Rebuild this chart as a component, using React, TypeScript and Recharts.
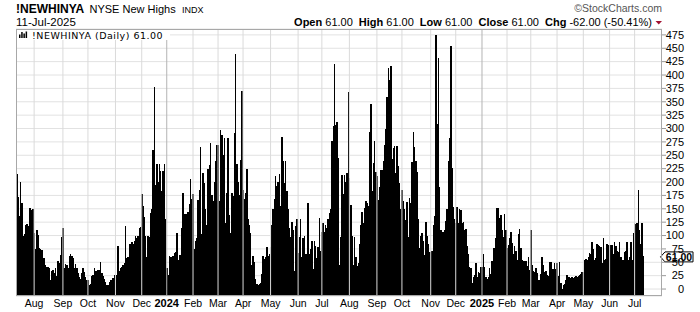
import React from "react";
import { BarChart, Bar, XAxis, YAxis, CartesianGrid, ReferenceLine } from "recharts";

// NYSE new highs, daily, one array per month of trading days
const jul23 = [215, 172, 136, 200, 161, 100, 103, 120, 121, 118, 151, 151, 148, 150];
const aug23 = [105, 75, 111, 101, 77, 74, 73, 58, 58, 45, 42, 42, 40, 17, 33, 36, 30, 39, 24, 52, 48, 64, 97];
const sep23 = [114, 39, 47, 45, 40, 61, 65, 61, 58, 40, 47, 40, 30, 22, 18, 30, 40, 32, 22, 16];
const oct23 = [16, 8, 10, 24, 26, 40, 34, 34, 35, 36, 50, 30, 24, 19, 14, 7, 7, 14, 17, 17, 20, 27];
const nov23 = [27, 27, 81, 33, 40, 42, 45, 49, 117, 58, 60, 84, 84, 88, 84, 90, 100, 95, 100, 115, 116];
const dec23 = [178, 156, 134, 100, 59, 99, 98, 143, 150, 259, 377, 195, 234, 200, 234, 221, 183, 221, 234, 131];
const jan24 = [39, 26, 61, 59, 59, 62, 67, 70, 105, 55, 64, 64, 115, 179, 140, 140, 140, 144, 159, 206, 169];
const feb24 = [178, 74, 90, 95, 167, 186, 265, 103, 217, 198, 150, 120, 225, 232, 273, 176, 164, 200, 239, 270];
const mar24 = [269, 165, 297, 288, 250, 282, 124, 179, 282, 139, 104, 179, 173, 291, 440, 234, 200, 176, 242, 371];
const apr24 = [186, 169, 180, 224, 131, 120, 105, 45, 61, 50, 19, 9, 8, 10, 11, 28, 61, 57, 60, 78, 61, 65];
const may24 = [78, 120, 150, 169, 211, 192, 200, 215, 156, 285, 240, 198, 239, 183, 150, 115, 98, 125, 110, 34, 117, 130];
const jun24 = [67, 98, 130, 60, 95, 99, 65, 65, 161, 65, 74, 89, 38, 89, 80, 58, 78, 133, 72];
const jul24 = [106, 123, 106, 120, 115, 130, 142, 150, 277, 304, 421, 306, 313, 245, 45, 98, 214, 178, 214, 200, 216, 368];
const aug24 = [207, 158, 100, 45, 98, 60, 44, 49, 84, 120, 144, 123, 152, 164, 160, 155, 293, 346, 184, 236, 277, 219];
const sep24 = [211, 167, 190, 222, 222, 240, 270, 300, 359, 414, 391, 416, 243, 264, 268, 216, 268, 230, 198, 150];
const oct24 = [185, 164, 150, 129, 163, 98, 170, 161, 238, 294, 266, 240, 219, 130, 76, 99, 104, 90, 64, 125, 100, 85, 70];
const nov24 = [70, 72, 120, 136, 474, 308, 432, 190, 111, 107, 107, 110, 128, 150, 240, 282, 455, 226, 153, 131];
const dec24 = [123, 154, 124, 149, 148, 123, 126, 110, 112, 80, 65, 42, 39, 11, 23, 26, 48, 23, 31, 30, 42];
const jan25 = [42, 65, 42, 22, 19, 22, 39, 29, 52, 76, 77, 95, 151, 151, 132, 139, 111, 97, 140, 110];
const feb25 = [76, 83, 95, 107, 86, 65, 80, 72, 55, 103, 113, 76, 55, 53, 52, 52, 43, 59, 36];
const mar25 = [110, 45, 34, 32, 40, 30, 16, 16, 29, 59, 45, 32, 34, 26, 24, 51, 51, 37, 38, 49, 37];
const apr25 = [49, 25, 51, 12, 1, 7, 9, 17, 27, 23, 22, 20, 22, 20, 23, 24, 22, 24, 26, 29, 31];
const may25 = [31, 55, 57, 55, 59, 68, 65, 88, 75, 54, 58, 85, 82, 80, 78, 48, 96, 55, 57, 85, 82];
const jun25 = [82, 83, 82, 65, 87, 80, 72, 70, 87, 60, 54, 55, 70, 72, 87, 54, 60, 87, 54, 104];
const jul25 = [124, 121, 123, 185, 110, 85, 123, 61];

const months = [jul23, aug23, sep23, oct23, nov23, dec23, jan24, feb24, mar24, apr24, may24, jun24,
  jul24, aug24, sep24, oct24, nov24, dec24, jan25, feb25, mar25, apr25, may25, jun25, jul25];
const monthLabels = ["", "Aug", "Sep", "Oct", "Nov", "Dec", "2024", "Feb", "Mar", "Apr", "May", "Jun",
  "Jul", "Aug", "Sep", "Oct", "Nov", "Dec", "2025", "Feb", "Mar", "Apr", "May", "Jun", "Jul"];
const yTicks = [0, 25, 50, 75, 100, 125, 150, 175, 200, 225, 250, 275, 300, 325, 350, 375, 400, 425, 450, 475];

const Y_MIN = -13;
const Y_MAX = 486;
const FONT = "'Liberation Sans', Arial, sans-serif";

// bars run from the bottom of the plot, like the original
const data: { i: number; v: number; range: number[] }[] = [];
const monthStart: Record<number, string> = {};
months.forEach((vals, m) => {
  if (monthLabels[m]) monthStart[data.length] = monthLabels[m];
  vals.forEach((v) => data.push({ i: data.length, v, range: [Y_MIN, v] }));
});
const isYear = (s: string) => /^\d{4}$/.test(s);

const last = data[data.length - 1].v;
const prev = data[data.length - 2].v;
const chg = last - prev;
const pct = (chg / prev) * 100;

const MonthTick = ({ x, y, payload }: any) => {
  const label = monthStart[payload.value];
  if (!label) return <g />;
  const yr = isYear(label);
  return (
    <text x={x} y={y} dy={10.5} textAnchor="middle" fontFamily={FONT}
      fontSize={yr ? 11 : 10.5} fontWeight={yr ? "bold" : "normal"} fill="#000">
      {label}
    </text>
  );
};

const PriceTick = ({ x, y, payload }: any) => (
  <text x={x + 16} y={y} dy={3.8} textAnchor="end" fontFamily={FONT} fontSize={11} fill="#000">
    {payload.value}
  </text>
);

// crisp black bars, slightly widened so neighbours touch without gaps
const DayBar = ({ x, y, width, height }: any) => {
  if (!(height > 0)) return null;
  return <rect x={x} y={y} width={width + 0.5} height={height} fill="#000" shapeRendering="crispEdges" />;
};

const LastTag = (props: any) => {
  const vb = props.viewBox;
  if (!vb) return null;
  const rx = vb.x + vb.width;
  const cy = vb.y;
  return (
    <g>
      <polygon
        points={`${rx - 1.5},${cy + 0.5} ${rx + 3},${cy - 4.5} ${rx + 31},${cy - 4.5} ${rx + 31},${cy + 5.5} ${rx + 3},${cy + 5.5}`}
        fill="#fff" stroke="#000" strokeWidth={1} />
      <text x={rx + 17} y={cy + 4.5} textAnchor="middle" fontFamily={FONT} fontSize={10.5}
        fontWeight="bold" fill="#000">
        {last.toFixed(2)}
      </text>
    </g>
  );
};

export default function App() {
  return (
    <div style={{ position: "relative", width: 700, height: 312, background: "#fff" }}>
      <style>{"body{margin:0}"}</style>
      <BarChart width={700} height={312} data={data}
        margin={{ top: 29, right: 0, bottom: 0, left: 16 }} barCategoryGap={0} barGap={0}>
        <CartesianGrid vertical={false} stroke="#e2e2e2" />
        {Object.keys(monthStart).map((k) => (
          <ReferenceLine key={k} x={Number(k)} stroke={isYear(monthStart[Number(k)]) ? "#b4b4b4" : "#dadada"} />
        ))}
        <XAxis dataKey="i" type="category" interval={0} tick={<MonthTick />} tickLine={false}
          axisLine={false} tickSize={0} tickMargin={0} height={16} padding={{ left: 0, right: 18 }} />
        <YAxis orientation="right" width={38} domain={[Y_MIN, Y_MAX]} allowDataOverflow ticks={yTicks}
          interval={0} tickSize={4} tickMargin={2} tickLine={{ stroke: "#999" }} axisLine={false}
          tick={<PriceTick />} />
        <Bar dataKey="range" fill="#000" shape={<DayBar />} isAnimationActive={false} />
        <ReferenceLine y={last} stroke="none" label={<LastTag />} />
      </BarChart>

      <svg width={700} height={312} style={{ position: "absolute", left: 0, top: 0, pointerEvents: "none" }}>
        <text x={16} y={12.5} fontFamily={FONT} fontSize={12} fontWeight="bold">!NEWHINYA</text>
        <text x={89.5} y={12.5} fontFamily={FONT} fontSize={11}>NYSE New Highs</text>
        <text x={182} y={12.5} fontFamily={FONT} fontSize={9}>INDX</text>
        <text x={662} y={11.5} textAnchor="end" fontFamily={FONT} fontSize={10.5} fill="#555">©StockCharts.com</text>
        <text x={16} y={26} fontFamily={FONT} fontSize={11.5}>11-Jul-2025</text>
        <text x={652} y={26} textAnchor="end" fontFamily={FONT} fontSize={11} style={{ whiteSpace: "pre" }}>
          <tspan fontWeight="bold">Open</tspan>
          <tspan>{` ${last.toFixed(2)}`}</tspan>
          <tspan fontWeight="bold" dx={6}>High</tspan>
          <tspan>{` ${last.toFixed(2)}`}</tspan>
          <tspan fontWeight="bold" dx={6}>Low</tspan>
          <tspan>{` ${last.toFixed(2)}`}</tspan>
          <tspan fontWeight="bold" dx={6}>Close</tspan>
          <tspan>{` ${last.toFixed(2)}`}</tspan>
          <tspan fontWeight="bold" dx={6}>Chg</tspan>
          <tspan>{` ${chg.toFixed(2)} (${pct.toFixed(2)}%)`}</tspan>
        </text>
        <polygon points="655.5,21 662,21 658.75,24.5" fill="#a01030" />
        <rect x={16.5} y={29.5} width={645} height={266} fill="none" stroke="#a8a8a8" />
        <rect x={17} y={30} width={153} height={10} fill="#fff" />
        <rect x={19} y={34.5} width={1.5} height={3.5} fill="#000" />
        <rect x={21.2} y={32} width={1.5} height={6} fill="#000" />
        <rect x={23.4} y={33.5} width={1.5} height={4.5} fill="#000" />
        <rect x={25.6} y={31.5} width={1.5} height={6.5} fill="#000" />
        <text x={32} y={38.5} fontFamily="'DejaVu Sans', Verdana, sans-serif" fontSize={9.5} letterSpacing={0.5}>
          {`!NEWHINYA (Daily) ${last.toFixed(2)}`}
        </text>
      </svg>
    </div>
  );
}
